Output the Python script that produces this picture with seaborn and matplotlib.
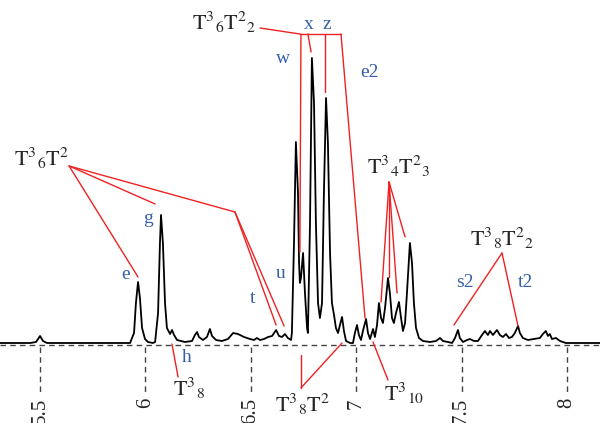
import matplotlib
matplotlib.use("Agg")
import matplotlib.pyplot as plt
import seaborn as sns
import pandas as pd

# chromatogram trace: retention time (min) and relative intensity
rt = [5.310, 5.453, 5.481, 5.500, 5.514, 5.533,
      5.927, 5.946, 5.955, 5.965, 5.974, 5.984, 5.998, 6.012, 6.036,
      6.046, 6.060, 6.069, 6.074, 6.083, 6.093, 6.102, 6.117, 6.126, 6.136, 6.150, 6.188,
      6.221, 6.235, 6.245, 6.254, 6.273, 6.292, 6.306, 6.316, 6.335, 6.363, 6.392, 6.416,
      6.439, 6.468, 6.496, 6.515, 6.529, 6.544, 6.563, 6.582, 6.601, 6.620, 6.634, 6.648,
      6.662, 6.676, 6.691,
      6.695, 6.705, 6.714, 6.724, 6.729, 6.733, 6.738, 6.748, 6.757, 6.767, 6.771, 6.781,
      6.790, 6.800, 6.809, 6.819, 6.828, 6.838, 6.847, 6.857, 6.866, 6.876, 6.885, 6.895,
      6.904, 6.914, 6.923, 6.933, 6.942, 6.952, 6.971,
      6.985, 6.994, 7.004, 7.013, 7.023, 7.032, 7.047, 7.056, 7.066, 7.080, 7.089, 7.099,
      7.108, 7.118, 7.127, 7.137, 7.151, 7.160, 7.170, 7.179, 7.189, 7.203, 7.213, 7.222,
      7.232, 7.241, 7.255, 7.265, 7.274, 7.284, 7.298, 7.317, 7.350, 7.379, 7.398, 7.412,
      7.436, 7.455, 7.469, 7.483, 7.492, 7.507, 7.526, 7.540, 7.559, 7.578, 7.597, 7.611,
      7.625, 7.635, 7.649, 7.668, 7.682, 7.696, 7.711, 7.725, 7.739, 7.753, 7.768, 7.777,
      7.791, 7.815, 7.843, 7.872, 7.886, 7.900, 7.910, 7.919, 7.929, 7.948, 7.967, 7.995,
      8.157]
intensity = [0, 0, 1, 7, 2, 0,
             0, 10, 40, 61, 45, 15, 4, 1, 0,
             1, 30, 100, 128, 100, 40, 15, 9, 13, 8, 3, 1,
             2, 8, 11, 6, 3, 6, 14, 7, 3, 2, 4, 10,
             9, 6, 4, 3, 5, 3, 4, 6, 7, 13, 7, 6,
             9, 5, 3,
             10, 100, 201, 150, 80, 60, 65, 90, 50, 15, 10, 120,
             285, 240, 120, 40, 25, 40, 150, 245, 200, 90, 40, 28,
             15, 10, 18, 26, 12, 2, 0,
             0, 10, 18, 8, 3, 12, 24, 10, 4, 14, 6, 18,
             40, 25, 20, 35, 65, 50, 25, 20, 30, 41, 25, 12,
             20, 50, 100, 80, 40, 15, 5, 2, 1, 2, 5, 2,
             1, 0, 5, 13, 5, 1, 3, 4, 2, 2, 8, 12,
             8, 12, 8, 13, 8, 6, 9, 5, 6, 10, 17, 10,
             5, 3, 4, 5, 9, 12, 7, 9, 4, 5, 2, 0,
             0]

tick_values = [5.5, 6, 6.5, 7, 7.5, 8]
tick_labels = ["5.5", "6", "6.5", "7", "7.5", "8"]

df = pd.DataFrame({"rt": rt, "intensity": intensity})

sns.set_style("white")
plt.rcParams["mathtext.fontset"] = "stix"
plt.rcParams["font.family"] = ["Liberation Serif", "DejaVu Serif"]

RED = "#ee2222"
BLUE = "#3560a8"

fig = plt.figure(figsize=(6, 4.23), dpi=100)
ax = fig.add_axes([0, 0, 1, 1])
ax.set_xlim(5.310, 8.157)
ax.set_ylim(-80, 343)
ax.axis("off")

# dashed baseline + dashed tick guides
ax.axhline(-2, color="#444444", lw=1, ls=(0, (4, 3)))
ax.vlines(tick_values, -4, -50, color="#444444", lw=1, ls=(0, (4, 3)))
for v, lab in zip(tick_values, tick_labels):
    ax.text(v, -55, lab, rotation=90, ha="center", va="top", fontsize=15)

sns.lineplot(data=df, x="rt", y="intensity", ax=ax, color="black", lw=1.3,
             estimator=None, sort=False)

def lines(origin, targets):
    for tx, ty in targets:
        ax.plot([origin[0], tx], [origin[1], ty], color=RED, lw=1)

big = 16
small = 14

# T3_6 T2
ax.text(5.509, 185, r"$\mathrm{T}^{3}{}_{6}\mathrm{T}^{2}$", fontsize=big, ha="center", va="center")
lines((5.638, 177), [(5.965, 66), (6.046, 139), (6.425, 131)])
lines((6.425, 131), [(6.620, 18), (6.658, 17)])

# T3_6 T2_2
ax.text(6.373, 321, r"$\mathrm{T}^{3}{}_{6}\mathrm{T}^{2}{}_{2}$", fontsize=big, ha="center", va="center")
lines((6.544, 315), [(6.733, 309)])
lines((6.733, 309), [(6.928, 309)])
lines((6.738, 309), [(6.733, 91)])
lines((6.771, 309), [(6.786, 291)])
lines((6.852, 309), [(6.852, 251)])
lines((6.928, 309), [(7.042, 25)])

# T3_4 T2_3
ax.text(7.203, 177, r"$\mathrm{T}^{3}{}_{4}\mathrm{T}^{2}{}_{3}$", fontsize=big, ha="center", va="center")
lines((7.156, 161), [(7.118, 41), (7.156, 66), (7.194, 50), (7.232, 106)])

# T3_8 T2_2
ax.text(7.692, 105, r"$\mathrm{T}^{3}{}_{8}\mathrm{T}^{2}{}_{2}$", fontsize=big, ha="center", va="center")
lines((7.692, 90), [(7.464, 18), (7.768, 17)])

# below the baseline
ax.text(6.207, -45, r"$\mathrm{T}^{3}{}_{8}$", fontsize=big, ha="center", va="center")
lines((6.126, -1), [(6.155, -34)])
ax.text(6.748, -61, r"$\mathrm{T}^{3}{}_{8}\mathrm{T}^{2}$", fontsize=big, ha="center", va="center")
lines((6.738, -45), [(6.738, -12), (6.933, 0)])
ax.text(7.227, -50, r"$\mathrm{T}^{3}{}_{10}$", fontsize=big, ha="center", va="center")
lines((7.080, 1), [(7.151, -37)])

# peak letters
peak_names = ["e", "g", "t", "u", "h", "w", "x", "z", "e2", "s2", "t2"]
name_x = [5.908, 6.012, 6.506, 6.643, 6.197, 6.653, 6.776, 6.861, 7.061, 7.516, 7.805]
name_y = [69, 125, 45, 70, -14, 285, 319, 319, 271, 61, 61]
for n, nx, ny in zip(peak_names, name_x, name_y):
    ax.text(nx, ny, n, color=BLUE, fontsize=small, ha="center", va="center")

fig.savefig("out.png", dpi=100)
